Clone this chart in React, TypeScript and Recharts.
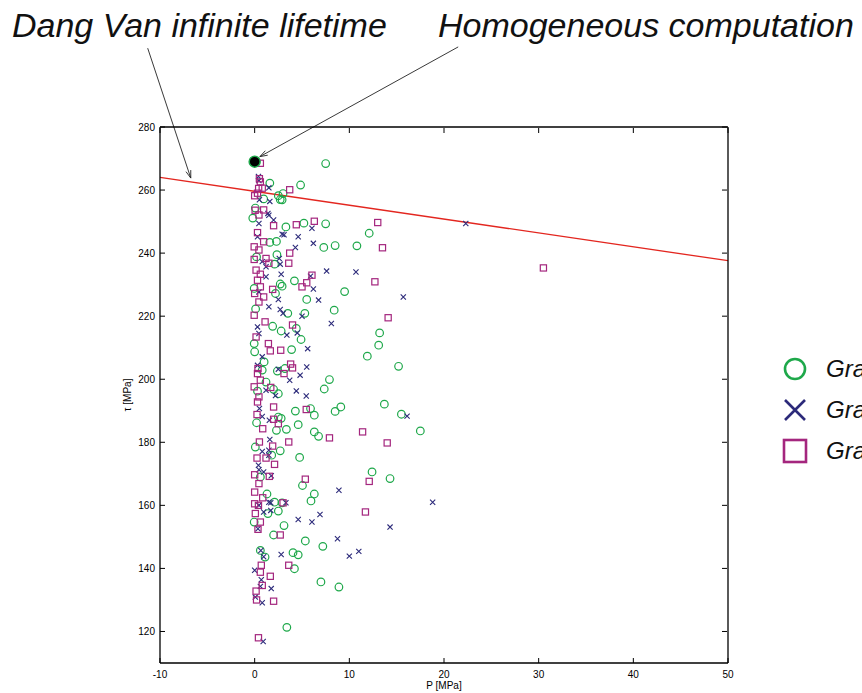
import React from 'react';
import { ScatterChart, Scatter, XAxis, YAxis, ReferenceLine, Legend } from 'recharts';

const GREEN = '#1ea84a';
const NAVY = '#2c2a7a';
const MAGENTA = '#a4267e';
const RED = '#e3261f';
const FONT = '"Liberation Sans", Arial, Helvetica, sans-serif';

const xTicks = [-10, 0, 10, 20, 30, 40, 50];
const yTicks = [120, 140, 160, 180, 200, 220, 240, 260, 280];
const seriesNames = ['Grain type 1', 'Grain type 2', 'Grain type 3'];

// circles (P, tau)
const grainA: [number, number][] = [
  [7.5, 268.4], [1.6, 262.2], [4.85, 261.6], [2.5, 258.2], [3.0, 258.9], [2.9, 256.9], [0.95, 257.2], [2.7, 257.0],
  [0.07, 254.3], [-0.2, 251.1], [5.2, 249.5], [7.5, 249.3], [3.3, 248.3], [12.1, 246.3], [2.3, 243.7], [1.6, 243.4],
  [8.5, 242.4], [10.8, 242.3], [7.3, 241.8], [2.35, 239.5], [0.2, 238.8], [2.1, 236.5], [4.2, 231.2], [2.9, 229.5],
  [2.7, 230.2], [-0.05, 228.8], [2.2, 227.2], [9.5, 227.8], [5.5, 225.3], [8.4, 221.9], [0.1, 222.3], [5.3, 220.9],
  [3.5, 220.9], [4.4, 216.1], [2.8, 215.3], [1.9, 216.8], [4.9, 212.6], [13.2, 214.7], [13.1, 210.8], [-0.05, 211.3],
  [3.9, 209.4], [0.0, 208.7], [11.9, 207.3], [1.0, 205.5], [15.2, 204.1], [3.2, 203.4], [2.4, 202.6], [0.8, 202.9],
  [1.2, 199.1], [7.9, 199.9], [7.35, 196.9], [2.0, 196.8], [0.3, 196.2], [2.5, 195.4], [13.7, 192.1], [9.1, 191.2],
  [5.9, 190.7], [4.3, 189.9], [8.5, 189.8], [15.5, 188.9], [6.3, 188.6], [2.5, 188.0], [2.8, 187.6], [0.2, 186.2],
  [4.6, 185.6], [3.35, 184.1], [2.3, 183.8], [6.3, 183.3], [17.5, 183.6], [6.75, 181.9], [0.07, 178.5], [2.7, 177.3],
  [1.8, 175.9], [4.75, 175.2], [12.4, 170.6], [0.6, 169.0], [14.3, 168.5], [5.05, 166.3], [6.3, 163.6], [1.3, 163.6],
  [5.95, 161.4], [2.1, 161.0], [2.9, 160.8], [2.5, 158.2], [1.4, 157.4], [-0.05, 154.7], [3.1, 153.6], [2.0, 150.6],
  [5.35, 148.7], [7.2, 147.0], [0.6, 145.7], [4.05, 145.0], [4.6, 144.3], [1.1, 143.6], [4.2, 139.9], [7.0, 135.7],
  [8.9, 134.1], [3.4, 121.3],
];

// crosses (P, tau)
const grainB: [number, number][] = [
  [0.4, 264.3], [0.45, 263.0], [1.5, 260.7], [0.5, 256.9], [1.6, 256.4], [1.4, 252.6], [1.5, 252.0], [2.0, 250.5],
  [0.45, 249.4], [6.05, 247.9], [2.9, 246.0], [3.1, 245.8], [0.3, 245.2], [4.6, 245.2], [6.2, 243.1], [4.3, 241.8],
  [2.6, 238.3], [0.8, 237.3], [2.7, 236.5], [1.2, 235.7], [7.6, 234.3], [10.7, 234.0], [2.8, 233.3], [5.9, 232.7],
  [1.2, 232.5], [6.2, 228.6], [0.45, 227.7], [15.7, 226.1], [2.5, 225.3], [6.75, 225.1], [1.5, 223.0], [2.7, 222.1],
  [3.0, 220.9], [5.0, 220.0], [8.1, 217.7], [0.3, 216.6], [4.5, 214.7], [0.45, 214.5], [3.4, 214.0], [5.6, 209.7],
  [0.8, 207.1], [0.3, 204.4], [5.5, 203.9], [2.5, 203.2], [4.8, 201.3], [3.7, 199.7], [1.2, 196.5], [4.4, 196.3],
  [5.45, 194.7], [2.2, 194.8], [0.5, 190.7], [0.8, 188.2], [16.1, 188.3], [1.55, 187.0], [1.6, 180.9], [1.5, 177.5],
  [0.8, 177.1], [1.5, 175.9], [0.4, 172.7], [0.45, 171.3], [0.95, 170.6], [1.75, 169.4], [8.9, 164.8], [18.8, 161.0],
  [1.5, 161.0], [1.7, 160.8], [3.3, 160.8], [0.45, 160.0], [1.7, 158.4], [0.95, 157.9], [6.9, 157.1], [4.6, 155.5],
  [6.05, 154.7], [14.3, 153.1], [0.35, 152.6], [8.75, 149.4], [0.65, 145.7], [11.0, 145.4], [2.8, 144.4], [10.0, 143.9],
  [0.95, 143.7], [0.0, 139.4], [0.7, 136.4], [0.6, 134.3], [1.75, 133.6], [0.07, 130.9], [0.8, 129.1], [0.9, 116.8],
  [22.3, 249.4],
];

// squares (P, tau)
const grainC: [number, number][] = [
  [0.6, 268.5], [0.5, 263.6], [0.6, 262.6], [0.8, 260.6], [0.42, 260.5], [3.7, 260.1], [0.3, 259.0], [0.0, 258.2],
  [0.95, 253.7], [0.05, 253.6], [0.45, 252.1], [6.3, 250.1], [13.0, 249.7], [4.4, 249.0], [2.0, 248.7], [0.3, 246.5],
  [0.95, 243.6], [-0.05, 242.0], [13.5, 241.7], [0.45, 241.0], [3.7, 240.0], [1.2, 238.3], [-0.05, 238.0], [3.6, 236.8],
  [1.5, 236.8], [30.5, 235.3], [0.15, 234.6], [0.6, 233.3], [6.05, 233.0], [0.3, 231.4], [12.7, 230.9], [5.5, 230.6],
  [0.6, 229.3], [5.0, 229.3], [1.9, 228.5], [0.0, 227.2], [0.95, 226.1], [0.45, 224.5], [-0.05, 220.3], [14.1, 219.5],
  [1.1, 218.2], [4.0, 217.2], [0.15, 213.4], [1.45, 211.3], [2.75, 209.2], [1.65, 209.0], [3.8, 204.8], [4.0, 203.6],
  [0.35, 203.4], [0.3, 201.8], [3.1, 201.8], [0.6, 199.7], [-0.05, 197.6], [1.7, 197.4], [0.45, 194.4], [0.3, 192.8],
  [2.0, 191.2], [5.45, 190.4], [0.25, 188.8], [2.0, 187.3], [2.5, 185.9], [0.85, 184.3], [11.4, 183.3], [7.9, 181.4],
  [3.6, 180.1], [0.5, 180.1], [14.0, 179.8], [1.9, 178.8], [0.25, 175.0], [1.2, 175.0], [2.1, 173.0], [0.0, 169.7],
  [1.55, 169.2], [5.35, 168.3], [12.1, 167.6], [0.45, 166.9], [0.0, 164.2], [0.85, 162.4], [0.0, 160.5], [0.4, 160.0],
  [3.0, 160.8], [11.7, 157.9], [0.07, 157.4], [0.6, 154.7], [0.35, 152.4], [2.7, 150.6], [3.6, 141.0], [0.7, 141.0],
  [0.6, 138.8], [1.65, 137.5], [0.8, 134.6], [0.15, 132.8], [0.2, 130.0], [2.0, 129.6], [0.4, 118.0],
];

const homogeneousPoint: [number, number][] = [[0, 269]];
const dangVanLine: [number, number][] = [[-10, 264.0], [50, 237.6]];
const dangVanArrow: [number, number][] = [[-11.3, 305.0], [-6.75, 263.8]];
const homogArrow: [number, number][] = [[21.5, 305.4], [0.55, 270.6]];

const toObjs = (arr: [number, number][]) => arr.map(([x, y]) => ({ x, y }));
const toSeg = (arr: [number, number][]) => arr.map(([x, y]) => ({ x, y }));

const CircleShape = (p: any) => (
  <circle cx={p.cx} cy={p.cy} r={3.8} fill="none" stroke={GREEN} strokeWidth={1.2} />
);
const CrossShape = (p: any) => {
  const s = 2.6;
  return (
    <path
      d={`M${p.cx - s},${p.cy - s}L${p.cx + s},${p.cy + s}M${p.cx - s},${p.cy + s}L${p.cx + s},${p.cy - s}`}
      stroke={NAVY}
      strokeWidth={1.1}
      fill="none"
    />
  );
};
const SquareShape = (p: any) => (
  <rect x={p.cx - 3.1} y={p.cy - 3.1} width={6.2} height={6.2} fill="none" stroke={MAGENTA} strokeWidth={1.2} />
);
const FilledShape = (p: any) => (
  <circle cx={p.cx} cy={p.cy} r={5.5} fill="#000" stroke={GREEN} strokeWidth={1.5} />
);

const BottomTick = (p: any) => (
  <g>
    <line x1={p.x} x2={p.x} y1={p.y} y2={p.y - 5} stroke="#000" strokeWidth={1} />
    <text x={p.x} y={p.y + 15} textAnchor="middle" fontSize={10} fontFamily={FONT} fill="#000">
      {p.payload.value}
    </text>
  </g>
);
const TopTick = (p: any) => (
  <line x1={p.x} x2={p.x} y1={p.y + 1} y2={p.y + 6} stroke="#000" strokeWidth={1} />
);
const LeftTick = (p: any) => (
  <g>
    <line x1={p.x} x2={p.x + 5} y1={p.y} y2={p.y} stroke="#000" strokeWidth={1} />
    <text x={p.x - 5} y={p.y} dy="0.35em" textAnchor="end" fontSize={10} fontFamily={FONT} fill="#000">
      {p.payload.value}
    </text>
  </g>
);
const RightTick = (p: any) => (
  <line x1={p.x - 1} x2={p.x - 6} y1={p.y} y2={p.y} stroke="#000" strokeWidth={1} />
);

const ArrowShape = (p: any) => {
  const { x1, y1, x2, y2 } = p;
  const ang = Math.atan2(y2 - y1, x2 - x1);
  const L = 8;
  const a = 0.32;
  const ax = x2 - L * Math.cos(ang - a);
  const ay = y2 - L * Math.sin(ang - a);
  const bx = x2 - L * Math.cos(ang + a);
  const by = y2 - L * Math.sin(ang + a);
  return (
    <g>
      <line x1={x1} y1={y1} x2={x2} y2={y2} stroke="#222" strokeWidth={0.9} />
      <path d={`M${ax},${ay}L${x2},${y2}L${bx},${by}`} stroke="#222" strokeWidth={0.9} fill="none" />
    </g>
  );
};

const YLabel = (p: any) => {
  const vb = p.viewBox || {};
  const cx = 131;
  const cy = vb.y + vb.height / 2;
  return (
    <text
      x={cx}
      y={cy}
      transform={`rotate(-90 ${cx} ${cy})`}
      textAnchor="middle"
      fontSize={10}
      fontFamily={FONT}
      fill="#000"
    >
      τ  [MPa]
    </text>
  );
};

const legendItems = [
  { name: seriesNames[0], kind: 'circle' },
  { name: seriesNames[1], kind: 'cross' },
  { name: seriesNames[2], kind: 'square' },
];

const LegendContent = () => (
  <div style={{ position: 'relative', width: 200 }}>
    {legendItems.map((it) => (
      <div key={it.name} style={{ display: 'flex', alignItems: 'center', height: 41, whiteSpace: 'nowrap' }}>
        <svg width={30} height={30} style={{ flex: 'none' }}>
          {it.kind === 'circle' && <circle cx={15} cy={15} r={10} fill="none" stroke={GREEN} strokeWidth={2.6} />}
          {it.kind === 'cross' && (
            <path d="M5,5L25,25M5,25L25,5" stroke={NAVY} strokeWidth={2.6} fill="none" />
          )}
          {it.kind === 'square' && (
            <rect x={4} y={4} width={22} height={22} fill="none" stroke={MAGENTA} strokeWidth={2.6} />
          )}
        </svg>
        <span
          style={{
            marginLeft: 16,
            fontFamily: FONT,
            fontStyle: 'italic',
            fontSize: 24,
            color: '#111',
          }}
        >
          {it.name}
        </span>
      </div>
    ))}
  </div>
);

export default function App() {
  return (
    <div
      style={{
        position: 'absolute',
        left: 0,
        top: 0,
        width: 862,
        height: 693,
        overflow: 'hidden',
        background: '#fff',
      }}
    >
      <ScatterChart width={862} height={693} margin={{ top: 126, right: 133, bottom: 0, left: 130 }}>
        <XAxis
          xAxisId="b"
          type="number"
          dataKey="x"
          domain={[-10, 50]}
          ticks={xTicks}
          orientation="bottom"
          height={30}
          tickSize={0}
          tickMargin={0}
          tickLine={false}
          tick={<BottomTick />}
          axisLine={{ stroke: '#000', strokeWidth: 1.3 }}
          allowDataOverflow
          label={{ value: 'P  [MPa]', position: 'insideBottom', offset: 4, fontSize: 10, fontFamily: FONT, fill: '#000' }}
        />
        <XAxis
          xAxisId="t"
          type="number"
          dataKey="x"
          domain={[-10, 50]}
          ticks={xTicks}
          orientation="top"
          height={1}
          tickSize={0}
          tickMargin={0}
          tickLine={false}
          tick={<TopTick />}
          axisLine={{ stroke: '#000', strokeWidth: 1.3 }}
          allowDataOverflow
        />
        <YAxis
          yAxisId="l"
          type="number"
          dataKey="y"
          domain={[110, 280]}
          ticks={yTicks}
          orientation="left"
          width={30}
          tickSize={0}
          tickMargin={0}
          tickLine={false}
          tick={<LeftTick />}
          axisLine={{ stroke: '#000', strokeWidth: 1.3 }}
          allowDataOverflow
          label={<YLabel />}
        />
        <YAxis
          yAxisId="r"
          type="number"
          dataKey="y"
          domain={[110, 280]}
          ticks={yTicks}
          orientation="right"
          width={1}
          tickSize={0}
          tickMargin={0}
          tickLine={false}
          tick={<RightTick />}
          axisLine={{ stroke: '#000', strokeWidth: 1.3 }}
          allowDataOverflow
        />
        <Legend
          layout="vertical"
          align="center"
          verticalAlign="middle"
          content={<LegendContent />}
          wrapperStyle={{ position: 'absolute', left: 780, top: 348, width: 200 }}
        />
        <ReferenceLine
          xAxisId="b"
          yAxisId="l"
          segment={toSeg(dangVanLine)}
          stroke={RED}
          strokeWidth={1.3}
          ifOverflow="hidden"
        />
        <Scatter
          name={seriesNames[0]}
          data={toObjs(grainA)}
          xAxisId="b"
          yAxisId="l"
          shape={CircleShape}
          isAnimationActive={false}
        />
        <Scatter
          name={seriesNames[1]}
          data={toObjs(grainB)}
          xAxisId="b"
          yAxisId="l"
          shape={CrossShape}
          isAnimationActive={false}
        />
        <Scatter
          name={seriesNames[2]}
          data={toObjs(grainC)}
          xAxisId="b"
          yAxisId="l"
          shape={SquareShape}
          isAnimationActive={false}
        />
        <Scatter
          name="Homogeneous computation"
          data={toObjs(homogeneousPoint)}
          xAxisId="b"
          yAxisId="l"
          shape={FilledShape}
          isAnimationActive={false}
          legendType="none"
        />
        <ReferenceLine
          xAxisId="b"
          yAxisId="l"
          segment={toSeg(dangVanArrow)}
          ifOverflow="visible"
          shape={ArrowShape}
        />
        <ReferenceLine
          xAxisId="b"
          yAxisId="l"
          segment={toSeg(homogArrow)}
          ifOverflow="visible"
          shape={ArrowShape}
        />
      </ScatterChart>
      <svg
        width={862}
        height={80}
        style={{ position: 'absolute', left: 0, top: 0, pointerEvents: 'none' }}
      >
        <text x={12} y={37} fontSize={34} fontStyle="italic" fontFamily={FONT} fill="#111">
          Dang Van infinite lifetime
        </text>
        <text x={438} y={37} fontSize={34} fontStyle="italic" fontFamily={FONT} fill="#111">
          Homogeneous computation
        </text>
      </svg>
    </div>
  );
}
